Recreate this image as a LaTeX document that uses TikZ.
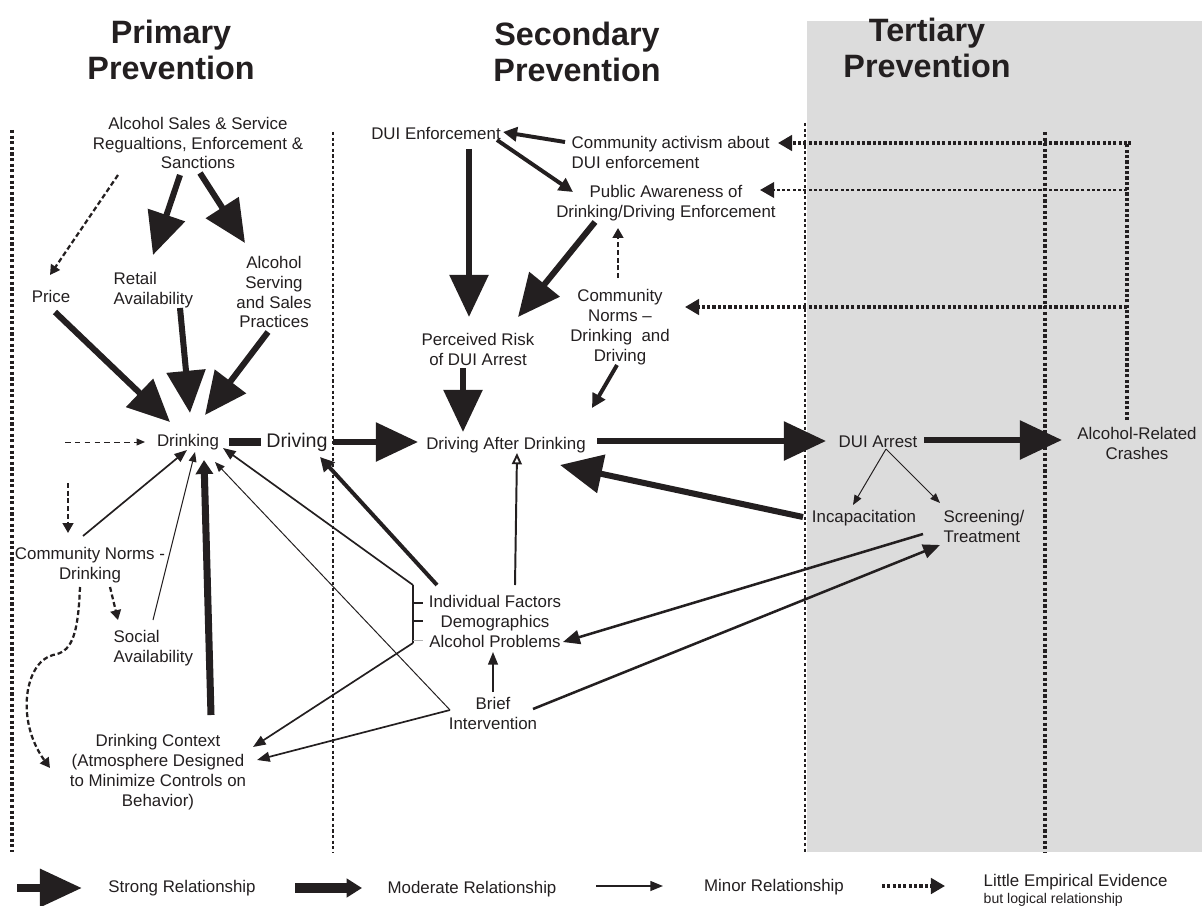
\documentclass[tikz,border=0pt]{standalone}
\usepackage{fontspec}
\setmainfont{Liberation Sans}
\usetikzlibrary{arrows.meta, calc}
\definecolor{tertgray}{HTML}{DCDCDC}
\definecolor{inkblack}{HTML}{231F20}

\tikzset{
    lbl/.style={align=center, inner sep=1pt, text=inkblack, font=\fontsize{12}{14.2}\selectfont},
    lbll/.style={lbl, align=left, anchor=west},
    title/.style={align=center, inner sep=0pt, text=inkblack, font=\bfseries\fontsize{23}{25}\selectfont},
    strongarrow/.style={draw=inkblack, line width=4.3pt, -{Triangle[length=30pt,width=27pt]}},
    modarrow/.style={draw=inkblack, line width=2.8pt, -{Triangle[length=10pt,width=10pt]}},
    ctxarrow/.style={draw=inkblack, line width=5pt, -{Triangle[length=10pt,width=12pt]}},
    medarrow/.style={draw=inkblack, line width=1.8pt, -{Triangle[length=12pt,width=10pt]}},
    minorarrow/.style={draw=inkblack, line width=1.2pt, -{Triangle[length=9pt,width=7pt]}},
    thinarrow/.style={draw=inkblack, line width=0.7pt, -{Triangle[length=7pt,width=5.5pt]}},
    hollowarrow/.style={draw=inkblack, line width=1.4pt, -{Triangle[open,length=8pt,width=7pt]}},
    dasharrow/.style={draw=inkblack, line width=1.6pt, dash pattern=on 3.5pt off 2pt, -{Triangle[length=7pt,width=7.5pt]}},
    thindash/.style={draw=inkblack, line width=0.7pt, dash pattern=on 4pt off 3pt, -{Triangle[length=6pt,width=5pt]}},
    evidline/.style={draw=inkblack, line width=2.3pt, dash pattern=on 2.2pt off 1.6pt},
    evidarrow/.style={evidline, -{Triangle[length=10pt,width=11pt]}},
    divider/.style={draw=inkblack, line width=2.4pt, dash pattern=on 2.2pt off 1.8pt},
}

\begin{document}
\begin{tikzpicture}[x=0.025cm, y=-0.025cm]
    \useasboundingbox (0,0) rectangle (1202,906);
    \fill[tertgray] (807,21) rectangle (1202,852);

    % column dividers
    \draw[divider] (12,130) -- (12,852);
    \draw[divider, line width=1.8pt] (333,132) -- (333,852);
    \draw[divider, line width=1.8pt] (805,123) -- (805,852);
    \draw[divider] (1045,132) -- (1045,852);

    % column titles
    \node[title] (primary) at (171,50) {Primary\\Prevention};
    \node[title] (secondary) at (577,52) {Secondary\\Prevention};
    \node[title] (tertiary) at (927,48) {Tertiary\\Prevention};

    % primary prevention
    \node[lbl] (sales) at (198,143) {Alcohol Sales \& Service\\Regualtions, Enforcement \&\\Sanctions};
    \node[lbl] (price) at (51,296) {Price};
    \node[lbll] (retail) at (112,290) {Retail\\Availability};
    \node[lbl] (serving) at (274,292) {Alcohol\\Serving\\and Sales\\Practices};
    \node[lbl] (drinking) at (188,442) {Drinking};
    \node[lbl, font=\fontsize{14}{16}\selectfont] (driving) at (297,442) {Driving};
    \node[lbl] (cnd) at (90,565) {Community Norms -\\Drinking};
    \node[lbll] (social) at (112,648) {Social\\Availability};
    \node[lbl] (context) at (158,772) {Drinking Context\\(Atmosphere Designed\\to Minimize Controls on\\Behavior)};

    % secondary prevention
    \node[lbl] (duienf) at (436,133) {DUI Enforcement};
    \node[lbll] (activism) at (570,152) {Community activism about\\DUI enforcement};
    \node[lbl] (awareness) at (666,203) {Public Awareness of\\Drinking/Driving Enforcement};
    \node[lbl] (risk) at (478,349) {Perceived Risk\\of DUI Arrest};
    \node[lbl] (normsdd) at (620,327) {Community\\Norms –\\Drinking~ and\\Driving};
    \node[lbl] (dad) at (506,445) {Driving After Drinking};
    \node[lbl] (indiv) at (495,621) {Individual Factors\\Demographics\\Alcohol Problems};
    \node[lbl] (brief) at (493,713) {Brief\\Intervention};

    % tertiary prevention
    \node[lbl] (duiarrest) at (878,442) {DUI Arrest};
    \node[lbl] (incap) at (864,518) {Incapacitation};
    \node[lbll] (screen) at (942,526) {Screening/\\Treatment};
    \node[lbl] (crashes) at (1137,443) {Alcohol-Related\\Crashes};

    % regulations
    \draw[strongarrow] ($(sales)+(-18,32)$) -- ($(retail.west)+(41,-35)$);
    \draw[strongarrow] ($(sales)+(2,30)$) -- ($(serving)+(-29,-49)$);
    \draw[dasharrow] ($(sales)+(-80,32)$) -- ($(price)+(-1,-21)$);

    % into drinking
    \draw[strongarrow] ($(price)+(4,16)$) -- ($(drinking)+(-18,-20)$);
    \draw[strongarrow] ($(retail.west)+(68,18)$) -- ($(drinking)+(2,-29)$);
    \draw[strongarrow] ($(serving)+(-6,40)$) -- ($(drinking)+(17,-27)$);
    \coordinate (leftin) at (65,442);
    \draw[thindash] (leftin) -- ($(drinking)+(-43,0)$);
    \draw[inkblack, line width=5pt] ($(drinking)+(41,0)$) -- ($(driving)+(-36,0)$);
    \draw[minorarrow] ($(cnd)+(-7,-29)$) -- ($(drinking)+(-1,8)$);
    \draw[thinarrow] ($(social.west)+(41,-28)$) -- ($(drinking)+(7,10)$);
    \draw[ctxarrow] ($(context)+(53,-57)$) -- ($(drinking)+(16,18)$);

    % community norms (drinking)
    \coordinate (cndin) at (68,483);
    \draw[dasharrow] (cndin) -- ($(cnd)+(-22,-32)$);
    \draw[dasharrow] ($(cnd)+(20,22)$) -- ($(social.west)+(6,-28)$);
    \draw[dasharrow] ($(cnd)+(-10,22)$) .. controls (78,640) and (70,652) .. (53,655)
        .. controls (25,662) and (15,720) .. ($(context)+(-108,-4)$);

    % individual factors bracket
    \draw[inkblack, line width=1pt] ($(indiv)+(-82,-36)$) -- ($(indiv)+(-82,22)$);
    \draw[inkblack, line width=1.2pt] ($(indiv)+(-82,-18)$) -- ($(indiv)+(-72,-18)$);
    \draw[inkblack, line width=1.2pt] ($(indiv)+(-82,0)$) -- ($(indiv)+(-72,0)$);
    \draw[gray!60, line width=0.6pt] ($(indiv)+(-82,19)$) -- ($(indiv)+(-72,19)$);
    \draw[minorarrow] ($(indiv)+(-82,-36)$) -- ($(drinking)+(35,6)$);
    \draw[minorarrow] ($(indiv)+(-82,22)$) -- ($(context)+(95,-25)$);
    \draw[modarrow] ($(indiv)+(-58,-36)$) -- ($(driving)+(23,15)$);
    \draw[hollowarrow] ($(indiv)+(20,-36)$) -- ($(dad)+(11,8)$);

    % brief intervention
    \draw[thinarrow] ($(brief)+(-43,-3)$) -- ($(drinking)+(27,20)$);
    \draw[minorarrow] ($(brief)+(-43,-3)$) -- ($(context)+(99,-12)$);
    \draw[minorarrow] ($(brief)+(0,-21)$) -- ($(indiv)+(-2,31)$);
    \draw[medarrow] ($(brief)+(40,-4)$) -- ($(screen.west)+(-2,19)$);

    % enforcement
    \draw[modarrow] ($(activism.west)+(-5,-10)$) -- ($(duienf)+(67,-1)$);
    \draw[modarrow] ($(duienf)+(61,7)$) -- ($(awareness)+(-93,-11)$);
    \draw[strongarrow] ($(duienf)+(33,16)$) -- ($(risk)+(-9,-32)$);
    \draw[strongarrow] ($(awareness)+(-71,19)$) -- ($(risk)+(40,-32)$);
    \draw[dasharrow] ($(normsdd)+(-2,-49)$) -- ($(awareness)+(-48,25)$);
    \draw[strongarrow] ($(risk)+(-15,19)$) -- ($(dad)+(-43,-13)$);
    \draw[modarrow] ($(normsdd)+(-3,38)$) -- ($(dad)+(86,-37)$);

    % main chain
    \draw[strongarrow] ($(driving)+(36,0)$) -- ($(dad)+(-88,-3)$);
    \draw[strongarrow] ($(dad)+(91,-4)$) -- ($(duiarrest)+(-52,-1)$);
    \draw[strongarrow] ($(duiarrest)+(46,-2)$) -- ($(crashes)+(-75,-3)$);
    \draw[thinarrow] ($(duiarrest)+(8,7)$) -- ($(incap)+(-11,-13)$);
    \draw[thinarrow] ($(duiarrest)+(8,7)$) -- ($(screen.west)+(-2,-23)$);
    \draw[strongarrow] ($(incap)+(-61,-1)$) -- ($(dad)+(54,20)$);
    \draw[medarrow] ($(screen.west)+(-19,8)$) -- ($(indiv)+(68,21)$);

    % feedback from crashes
    \coordinate (fbtop) at (1127,143);
    \coordinate (fbend) at (1132,143);
    \coordinate (fbmid) at (1127,190);
    \coordinate (fbnorm) at (1127,307);
    \draw[evidline] ($(crashes)+(-10,-23)$) -- (fbtop) -- (fbend);
    \draw[evidarrow] (fbtop) -- ($(activism.west)+(208,-9)$);
    \draw[evidarrow, line width=1.5pt] (fbmid) -- ($(awareness)+(94,-13)$);
    \draw[evidarrow] (fbnorm) -- ($(normsdd)+(65,-20)$);

    % legend
    \coordinate (lgsA) at (17,888);
    \coordinate (lgsB) at (82,888);
    \coordinate (lgmA) at (295,888);
    \coordinate (lgmB) at (362,888);
    \coordinate (lgnA) at (596,886);
    \coordinate (lgnB) at (663,886);
    \coordinate (lgeA) at (882,886);
    \coordinate (lgeB) at (945,886);
    \draw[strongarrow, line width=5.7pt, -{Triangle[length=30pt,width=26pt]}] (lgsA) -- (lgsB);
    \draw[modarrow, line width=7pt, -{Triangle[length=11pt,width=13pt]}] (lgmA) -- (lgmB);
    \draw[minorarrow] (lgnA) -- (lgnB);
    \draw[evidarrow] (lgeA) -- (lgeB);
    \node[lbl] (lgstrong) at (182,888) {Strong Relationship};
    \node[lbl] (lgmod) at (472,889) {Moderate Relationship};
    \node[lbl] (lgminor) at (774,887) {Minor Relationship};
    \node[lbll] (lgevid) at (982,882) {Little Empirical Evidence};
    \node[lbll, font=\fontsize{10}{12}\selectfont] (lglogic) at (982,900) {but logical relationship};
\end{tikzpicture}
\end{document}
